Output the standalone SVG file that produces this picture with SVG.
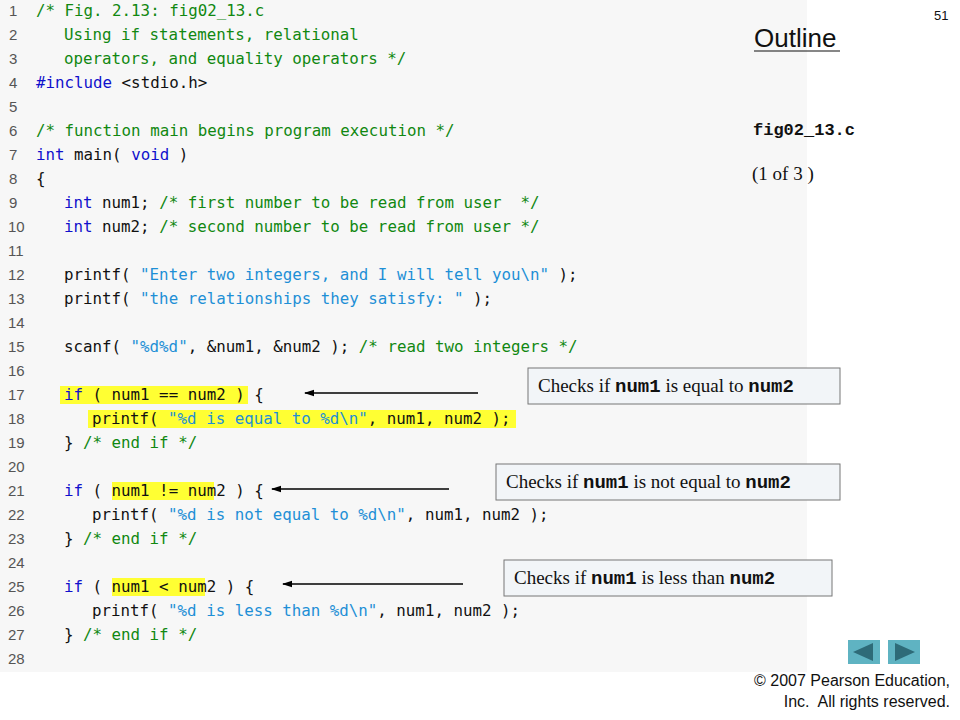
<svg xmlns="http://www.w3.org/2000/svg" width="960" height="720" viewBox="0 0 960 720">
<defs>
<style>
.ln{font-family:"Liberation Sans",Arial,sans-serif;font-size:15px;fill:#555}
.c{font-family:"DejaVu Sans Mono","Liberation Mono",monospace;font-size:15.8px;fill:#111}
.cm{fill:#118811}.kw{fill:#1010cc}.st{fill:#1e8fd6}
.hl{fill:#ffff33}
.box{fill:#f2f5f8;stroke:#777;stroke-width:1}
.bt{font-family:"Liberation Serif","Times New Roman",serif;font-size:19px;fill:#111}
.mb{font-family:"Liberation Mono","Courier New",monospace;font-weight:bold}
.ar{stroke:#000;stroke-width:1.3;fill:none;marker-end:url(#ah)}
.ft{font-family:"Liberation Sans",Arial,sans-serif;font-size:16px;fill:#111}
</style>
<marker id="ah" markerWidth="10" markerHeight="8" refX="9" refY="4" orient="auto" markerUnits="userSpaceOnUse"><path d="M0,0.8 L10,4 L0,7.2 Z" fill="#000"/></marker>
</defs>
<rect width="960" height="720" fill="#fff"/>
<rect x="0" y="0" width="807" height="672" fill="#f7f7f7"/>
<g id="highlights">
<rect class="hl" x="60" y="386" width="188" height="18"/>
<rect class="hl" x="88" y="410" width="428" height="18"/>
<rect class="hl" x="112" y="482" width="102" height="18"/>
<rect class="hl" x="112" y="578" width="93" height="18"/>
</g>
<g id="linenumbers" class="ln">
<text x="9" y="16">1</text><text x="9" y="40">2</text><text x="9" y="64">3</text><text x="9" y="88">4</text><text x="9" y="112">5</text><text x="9" y="136">6</text><text x="9" y="160">7</text><text x="9" y="184">8</text><text x="9" y="208">9</text><text x="8" y="232">10</text><text x="8" y="256">11</text><text x="8" y="280">12</text><text x="8" y="304">13</text><text x="8" y="328">14</text><text x="8" y="352">15</text><text x="8" y="376">16</text><text x="8" y="400">17</text><text x="8" y="424">18</text><text x="8" y="448">19</text><text x="8" y="472">20</text><text x="8" y="496">21</text><text x="8" y="520">22</text><text x="8" y="544">23</text><text x="8" y="568">24</text><text x="8" y="592">25</text><text x="8" y="616">26</text><text x="8" y="640">27</text><text x="8" y="664">28</text>
</g>
<g id="code" class="c">
<text x="36" y="16"><tspan class="cm">/* Fig. 2.13: fig02_13.c</tspan></text>
<text x="64" y="40"><tspan class="cm">Using if statements, relational</tspan></text>
<text x="64" y="64"><tspan class="cm">operators, and equality operators */</tspan></text>
<text x="36" y="88"><tspan class="kw">#include</tspan> &lt;stdio.h&gt;</text>
<text x="36" y="136"><tspan class="cm">/* function main begins program execution */</tspan></text>
<text x="36" y="160"><tspan class="kw">int</tspan> main( <tspan class="kw">void</tspan> )</text>
<text x="36" y="184">{</text>
<text x="64" y="208"><tspan class="kw">int</tspan> num1; <tspan class="cm">/* first number to be read from user&#160; */</tspan></text>
<text x="64" y="232"><tspan class="kw">int</tspan> num2; <tspan class="cm">/* second number to be read from user */</tspan></text>
<text x="64" y="280">printf( <tspan class="st">"Enter two integers, and I will tell you\n"</tspan> );</text>
<text x="64" y="304">printf( <tspan class="st">"the relationships they satisfy: "</tspan> );</text>
<text x="64" y="352">scanf( <tspan class="st">"%d%d"</tspan>, &amp;num1, &amp;num2 ); <tspan class="cm">/* read two integers */</tspan></text>
<text x="64" y="400"><tspan class="kw">if</tspan> ( num1 == num2 ) {</text>
<text x="92" y="424">printf( <tspan class="st">"%d is equal to %d\n"</tspan>, num1, num2 );</text>
<text x="64" y="448">} <tspan class="cm">/* end if */</tspan></text>
<text x="64" y="496"><tspan class="kw">if</tspan> ( num1 != num2 ) {</text>
<text x="92" y="520">printf( <tspan class="st">"%d is not equal to %d\n"</tspan>, num1, num2 );</text>
<text x="64" y="544">} <tspan class="cm">/* end if */</tspan></text>
<text x="64" y="592"><tspan class="kw">if</tspan> ( num1 &lt; num2 ) {</text>
<text x="92" y="616">printf( <tspan class="st">"%d is less than %d\n"</tspan>, num1, num2 );</text>
<text x="64" y="640">} <tspan class="cm">/* end if */</tspan></text>
</g>
<g id="header">
<text x="934" y="20" font-family="Liberation Sans,Arial,sans-serif" font-size="13" fill="#111">51</text>
<text x="754" y="47" font-family="Liberation Sans,Arial,sans-serif" font-size="26" fill="#111">Outline</text>
<line x1="754" y1="51" x2="840" y2="51" stroke="#111" stroke-width="1.2"/>
<text x="753" y="135" font-family="Liberation Mono,Courier New,monospace" font-weight="bold" font-size="17" fill="#111">fig02_13.c</text>
<text x="752" y="180" class="bt">(1 of 3 )</text>
</g>
<g id="callout1"><rect class="box" x="528" y="368" width="312" height="36"/><text x="538" y="392" class="bt">Checks if <tspan class="mb">num1</tspan> is equal to <tspan class="mb">num2</tspan></text></g>
<g id="callout2"><rect class="box" x="496" y="464" width="344" height="36"/><text x="506" y="488" class="bt">Checks if <tspan class="mb">num1</tspan> is not equal to <tspan class="mb">num2</tspan></text></g>
<g id="callout3"><rect class="box" x="504" y="560" width="328" height="36"/><text x="514" y="584" class="bt">Checks if <tspan class="mb">num1</tspan> is less than <tspan class="mb">num2</tspan></text></g>
<g id="connectors">
<line class="ar" x1="478" y1="393" x2="305" y2="393"/>
<line class="ar" x1="449" y1="489" x2="272" y2="489"/>
<line class="ar" x1="463" y1="584" x2="283" y2="584"/>
</g>
<g id="nav">
<rect x="848" y="640" width="32" height="24" fill="#5fb3c2"/><path d="M853,652 L873,643 L873,661 Z" fill="#2e6b78"/>
<rect x="888" y="640" width="32" height="24" fill="#5fb3c2"/><path d="M915,652 L895,643 L895,661 Z" fill="#2e6b78"/>
</g>
<g id="footer" class="ft">
<text x="950" y="686" text-anchor="end">© 2007 Pearson Education,</text>
<text x="950" y="707" text-anchor="end">Inc.&#160; All rights reserved.</text>
</g>
</svg>
